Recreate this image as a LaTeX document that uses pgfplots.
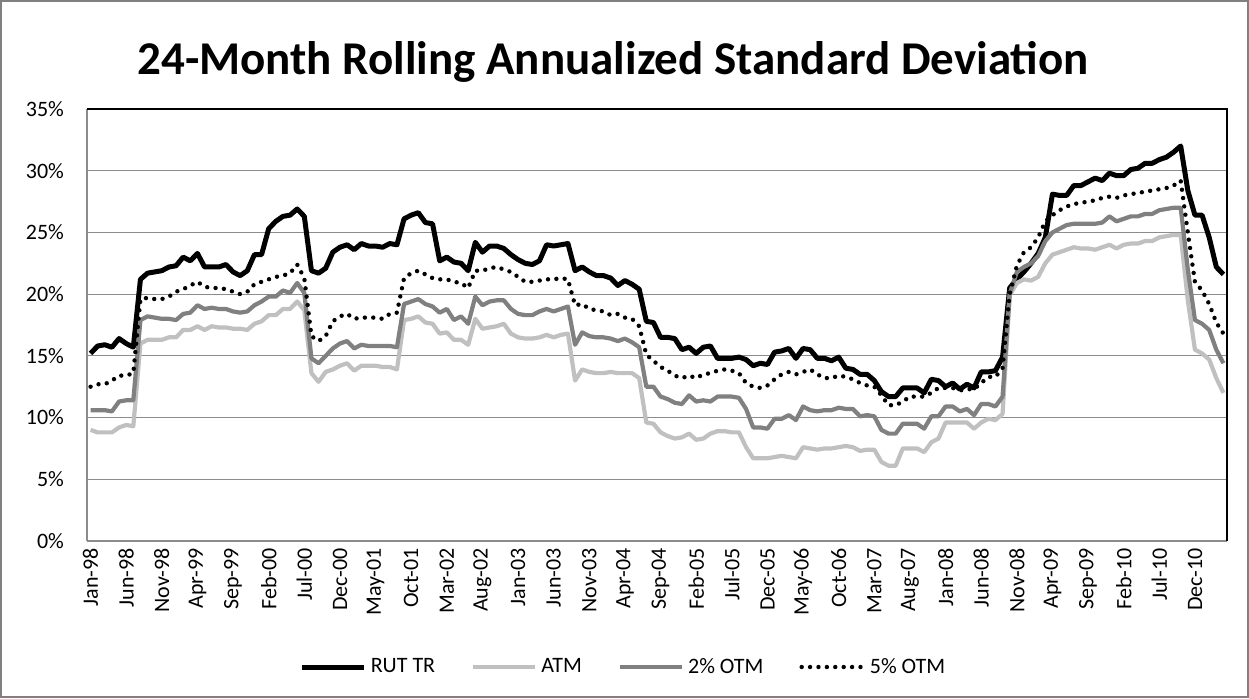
\documentclass[border=0pt]{standalone}
\usepackage{fontspec}
\setmainfont{Carlito}
\usepackage{pgfplots}
\usepackage{pgfplotstable}
\pgfplotsset{compat=1.18}
\usetikzlibrary{calc}

\definecolor{atmgray}{HTML}{C0C0C0}
\definecolor{otmgray}{HTML}{808080}
\definecolor{gridgray}{HTML}{8C8C8C}

% i = month index from Jan-98
\pgfplotstableread{
i rut atm otm2 otm5
0 15.2 9.0 10.6 12.5
1 15.8 8.8 10.6 12.7
2 15.9 8.8 10.6 12.7
3 15.7 8.8 10.5 13.0
4 16.4 9.2 11.3 13.4
5 16.0 9.4 11.4 13.4
6 15.7 9.3 11.4 13.6
7 21.2 16.0 17.9 19.6
8 21.7 16.3 18.2 19.7
9 21.8 16.3 18.1 19.6
10 21.9 16.3 18.0 19.6
11 22.2 16.5 18.0 19.8
12 22.3 16.5 17.9 20.2
13 23.0 17.1 18.4 20.4
14 22.7 17.1 18.5 20.7
15 23.3 17.4 19.1 21.0
16 22.2 17.1 18.8 20.6
17 22.2 17.4 18.9 20.5
18 22.2 17.3 18.8 20.5
19 22.4 17.3 18.8 20.4
20 21.8 17.2 18.6 20.2
21 21.5 17.2 18.5 20.0
22 21.9 17.1 18.6 20.2
23 23.2 17.6 19.1 20.8
24 23.2 17.8 19.4 21.0
25 25.3 18.3 19.8 21.2
26 25.9 18.3 19.8 21.4
27 26.3 18.8 20.3 21.5
28 26.4 18.8 20.1 21.7
29 26.9 19.4 20.9 22.4
30 26.3 18.7 20.1 21.3
31 21.9 13.6 14.8 16.6
32 21.7 12.9 14.4 16.2
33 22.1 13.7 15.0 16.6
34 23.4 13.9 15.6 17.8
35 23.8 14.2 16.0 18.2
36 24.0 14.4 16.2 18.4
37 23.6 13.8 15.6 18.0
38 24.1 14.2 15.9 18.1
39 23.9 14.2 15.8 18.1
40 23.9 14.2 15.8 18.1
41 23.8 14.1 15.8 18.0
42 24.1 14.1 15.8 18.4
43 24.0 13.9 15.7 18.5
44 26.1 17.9 19.2 21.3
45 26.4 18.0 19.4 21.7
46 26.6 18.2 19.6 21.9
47 25.8 17.7 19.2 21.6
48 25.7 17.6 19.0 21.3
49 22.7 16.8 18.5 21.2
50 23.0 16.9 18.8 21.2
51 22.6 16.3 17.9 21.0
52 22.5 16.3 18.2 20.9
53 21.9 15.9 17.6 20.5
54 24.2 18.0 19.8 21.9
55 23.4 17.2 19.1 21.9
56 23.9 17.3 19.4 22.1
57 23.9 17.4 19.5 22.2
58 23.7 17.6 19.5 22.0
59 23.2 16.8 18.8 21.8
60 22.8 16.5 18.4 21.4
61 22.5 16.4 18.3 21.0
62 22.4 16.4 18.3 21.0
63 22.7 16.5 18.6 21.1
64 24.0 16.7 18.8 21.2
65 23.9 16.5 18.6 21.2
66 24.0 16.7 18.8 21.3
67 24.1 16.8 19.0 21.2
68 21.9 13.0 15.9 19.1
69 22.2 13.9 16.9 19.2
70 21.8 13.7 16.6 18.8
71 21.5 13.6 16.5 18.7
72 21.5 13.6 16.5 18.6
73 21.3 13.7 16.4 18.3
74 20.7 13.6 16.2 18.4
75 21.1 13.6 16.4 18.1
76 20.8 13.6 16.1 18.0
77 20.4 13.2 15.7 17.4
78 17.8 9.6 12.5 15.1
79 17.7 9.5 12.5 14.6
80 16.5 8.8 11.7 14.1
81 16.5 8.5 11.5 13.8
82 16.4 8.3 11.2 13.4
83 15.5 8.4 11.1 13.2
84 15.7 8.7 11.8 13.4
85 15.2 8.2 11.3 13.2
86 15.7 8.3 11.4 13.5
87 15.8 8.7 11.3 13.6
88 14.8 8.9 11.7 13.8
89 14.8 8.9 11.7 13.9
90 14.8 8.8 11.7 13.8
91 14.9 8.8 11.6 13.6
92 14.7 7.6 10.7 12.8
93 14.2 6.7 9.2 12.5
94 14.4 6.7 9.2 12.4
95 14.3 6.7 9.1 12.6
96 15.3 6.8 9.9 13.1
97 15.4 6.9 9.9 13.5
98 15.6 6.8 10.2 13.7
99 14.8 6.7 9.8 13.5
100 15.6 7.6 10.9 13.7
101 15.5 7.5 10.6 13.9
102 14.8 7.4 10.5 13.5
103 14.8 7.5 10.6 13.2
104 14.6 7.5 10.6 13.2
105 14.9 7.6 10.8 13.4
106 14.0 7.7 10.7 13.3
107 13.9 7.6 10.7 13.1
108 13.5 7.3 10.1 12.8
109 13.5 7.4 10.2 12.6
110 13.0 7.4 10.1 12.5
111 12.1 6.4 9.0 11.8
112 11.7 6.1 8.7 11.0
113 11.7 6.1 8.7 11.0
114 12.4 7.5 9.5 11.3
115 12.4 7.5 9.5 11.7
116 12.4 7.5 9.5 11.7
117 12.0 7.2 9.1 11.7
118 13.1 8.0 10.1 12.0
119 13.0 8.3 10.1 12.4
120 12.5 9.6 10.9 12.4
121 12.8 9.6 10.9 12.4
122 12.3 9.6 10.5 12.2
123 12.7 9.6 10.7 12.3
124 12.4 9.1 10.2 12.3
125 13.7 9.6 11.1 12.8
126 13.7 9.9 11.1 13.3
127 13.8 9.8 10.9 13.3
128 14.9 10.3 11.7 14.0
129 20.5 19.9 20.0 20.0
130 21.2 20.9 21.8 22.3
131 21.8 21.2 22.2 23.4
132 22.5 21.1 22.5 23.8
133 23.3 21.4 23.1 24.6
134 24.6 22.5 24.3 25.9
135 28.1 23.2 25.0 26.4
136 28.0 23.4 25.3 26.8
137 28.0 23.6 25.6 27.1
138 28.8 23.8 25.7 27.3
139 28.8 23.7 25.7 27.4
140 29.1 23.7 25.7 27.5
141 29.4 23.6 25.7 27.6
142 29.2 23.8 25.8 27.8
143 29.8 24.0 26.3 27.9
144 29.6 23.7 25.9 27.8
145 29.6 24.0 26.1 28.0
146 30.1 24.1 26.3 28.1
147 30.2 24.1 26.3 28.2
148 30.6 24.3 26.5 28.3
149 30.6 24.3 26.5 28.4
150 30.9 24.6 26.8 28.5
151 31.1 24.7 26.9 28.6
152 31.5 24.8 27.0 28.8
153 32.0 24.8 27.0 29.2
154 28.4 19.5 22.0 25.0
155 26.4 15.5 17.9 21.0
156 26.4 15.2 17.6 20.3
157 24.6 14.7 17.1 19.2
158 22.2 13.2 15.5 17.7
159 21.6 12.0 14.4 16.8
}\stddata

\begin{document}
\begin{tikzpicture}
\begin{axis}[
    name=ax,
    scale only axis,
    width=570pt, height=216pt,
    xmin=-0.5, xmax=159.5,
    ymin=0, ymax=35,
    xtick={0,5,...,155},
    xticklabels={Jan-98,Jun-98,Nov-98,Apr-99,Sep-99,Feb-00,Jul-00,Dec-00,
                 May-01,Oct-01,Mar-02,Aug-02,Jan-03,Jun-03,Nov-03,Apr-04,
                 Sep-04,Feb-05,Jul-05,Dec-05,May-06,Oct-06,Mar-07,Aug-07,
                 Jan-08,Jun-08,Nov-08,Apr-09,Sep-09,Feb-10,Jul-10,Dec-10},
    x tick label style={rotate=90, anchor=east, font=\fontsize{11}{13}\selectfont},
    xtick style={draw=none},
    ytick={0,5,...,35},
    yticklabels={0\%,5\%,10\%,15\%,20\%,25\%,30\%,35\%},
    y tick label style={font=\fontsize{11}{13}\selectfont, xshift=-8pt},
    ytick style={draw=none},
    ymajorgrids,
    grid style={gridgray, line width=0.6pt},
    axis line style={gridgray, line width=0.6pt},
    axis x line*=bottom, axis y line*=left,
    line join=round,
    legend columns=4,
    legend style={at={(0.4715,-0.2917)}, anchor=center, draw=none, fill=none,
        font=\fontsize{11}{13}\selectfont,
        /tikz/every even column/.append style={column sep=16pt}},
    legend image code/.code={\draw[#1] (0pt,0pt) -- (31pt,0pt);},
]
\addplot[black, line width=2.5pt] table[x=i, y=rut] {\stddata};
\addlegendentry{RUT TR}
\addplot[atmgray, line width=2.1pt] table[x=i, y=atm] {\stddata};
\addlegendentry{ATM}
\addplot[otmgray, line width=2.1pt] table[x=i, y=otm2] {\stddata};
\addlegendentry{2\% OTM}
\addplot[black, line width=2.2pt, line cap=round, dash pattern=on 0pt off 4.2pt] table[x=i, y=otm5] {\stddata};
\addlegendentry{5\% OTM}
\end{axis}
\draw[black, line width=0.6pt] (ax.north west) -- (ax.north east) -- (ax.south east);
\node[font=\bfseries\fontsize{23.5}{28}\selectfont] at ($(ax.south west)+(263pt,239.5pt)$)
    {24-Month Rolling Annualized Standard Deviation};
\path[use as bounding box] ($(ax.south west)+(-43.5pt,-78.5pt)$) rectangle ($(ax.north east)+(11pt,54.5pt)$);
\draw[gray, line width=0.8pt] ($(ax.south west)+(-43pt,-78pt)$) rectangle ($(ax.north east)+(10.5pt,54pt)$);
\end{tikzpicture}
\end{document}
